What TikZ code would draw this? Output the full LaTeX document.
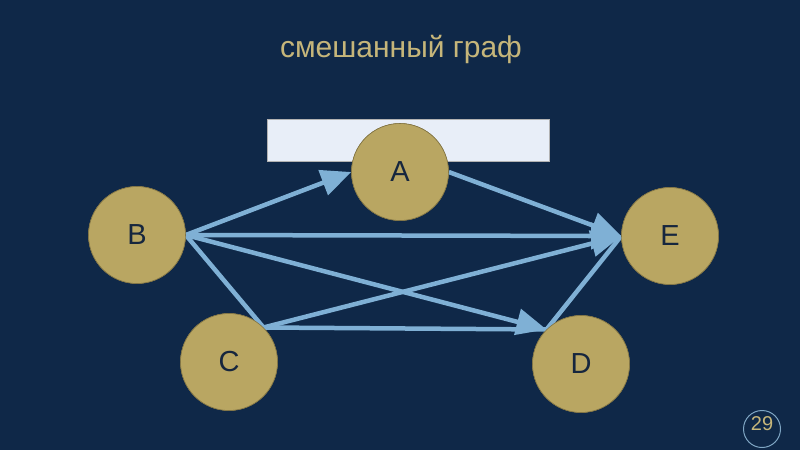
\documentclass[tikz,border=0pt]{standalone}
\usepackage{fontspec}
\setmainfont{Liberation Sans}
\usetikzlibrary{arrows.meta}
\definecolor{bg}{RGB}{15,40,72}
\definecolor{gold}{RGB}{185,166,98}
\definecolor{goldtxt}{RGB}{198,182,122}
\definecolor{edge}{RGB}{127,176,213}
\definecolor{lettr}{RGB}{22,38,62}
\definecolor{boxfill}{RGB}{232,238,248}
\begin{document}
\begin{tikzpicture}[x=1pt,y=-1pt,
  vtx/.style={circle,fill=gold,draw=gold!70!black,line width=0.6pt,minimum size=97pt,inner sep=0pt,
    text=lettr,font=\fontsize{29}{29}\selectfont},
  edg/.style={draw=edge,line width=4.5pt},
  arr/.style={edg,-{Triangle[length=30pt,width=26pt]}},
  lbl/.style={text=goldtxt,inner sep=0pt}]
\fill[bg] (0,0) rectangle (800,450);
\useasboundingbox (0,0) rectangle (800,450);
\node[lbl,font=\fontsize{30}{30}\selectfont] (title) at (401,49) {смешанный граф};
\node[draw=gray!60,line width=0.6pt,fill=boxfill,minimum width=282pt,minimum height=42pt,inner sep=0pt] (box) at (408,140) {};
\node[vtx] (A) at (400,172) {A};
\node[vtx] (B) at (137,235) {B};
\node[vtx] (C) at (229,362) {C};
\node[vtx] (D) at (581,364) {D};
\node[vtx] (E) at (670,236) {E};
\path[edg] (B.east) -- (C.north east);
\path[edg] (C.north east) -- (D.north west);
\path[edg] (D.north west) -- (E.west);
\path[arr] (B.east) -- (A.west);
\path[arr] (A.east) -- (E.west);
\path[arr] (B.east) -- (E.west);
\path[arr] (B.east) -- (D.north west);
\path[arr] (C.north east) -- (E.west);
\node[vtx] at (A) {A};
\node[vtx] at (B) {B};
\node[vtx] at (C) {C};
\node[vtx] at (D) {D};
\node[vtx] at (E) {E};
\node[circle,draw=edge!80!gray,line width=1pt,minimum size=37pt,inner sep=0pt] (pgc) at (762,429) {};
\node[lbl,font=\fontsize{20}{20}\selectfont] (pg) at (762,424) {29};
\end{tikzpicture}
\end{document}
